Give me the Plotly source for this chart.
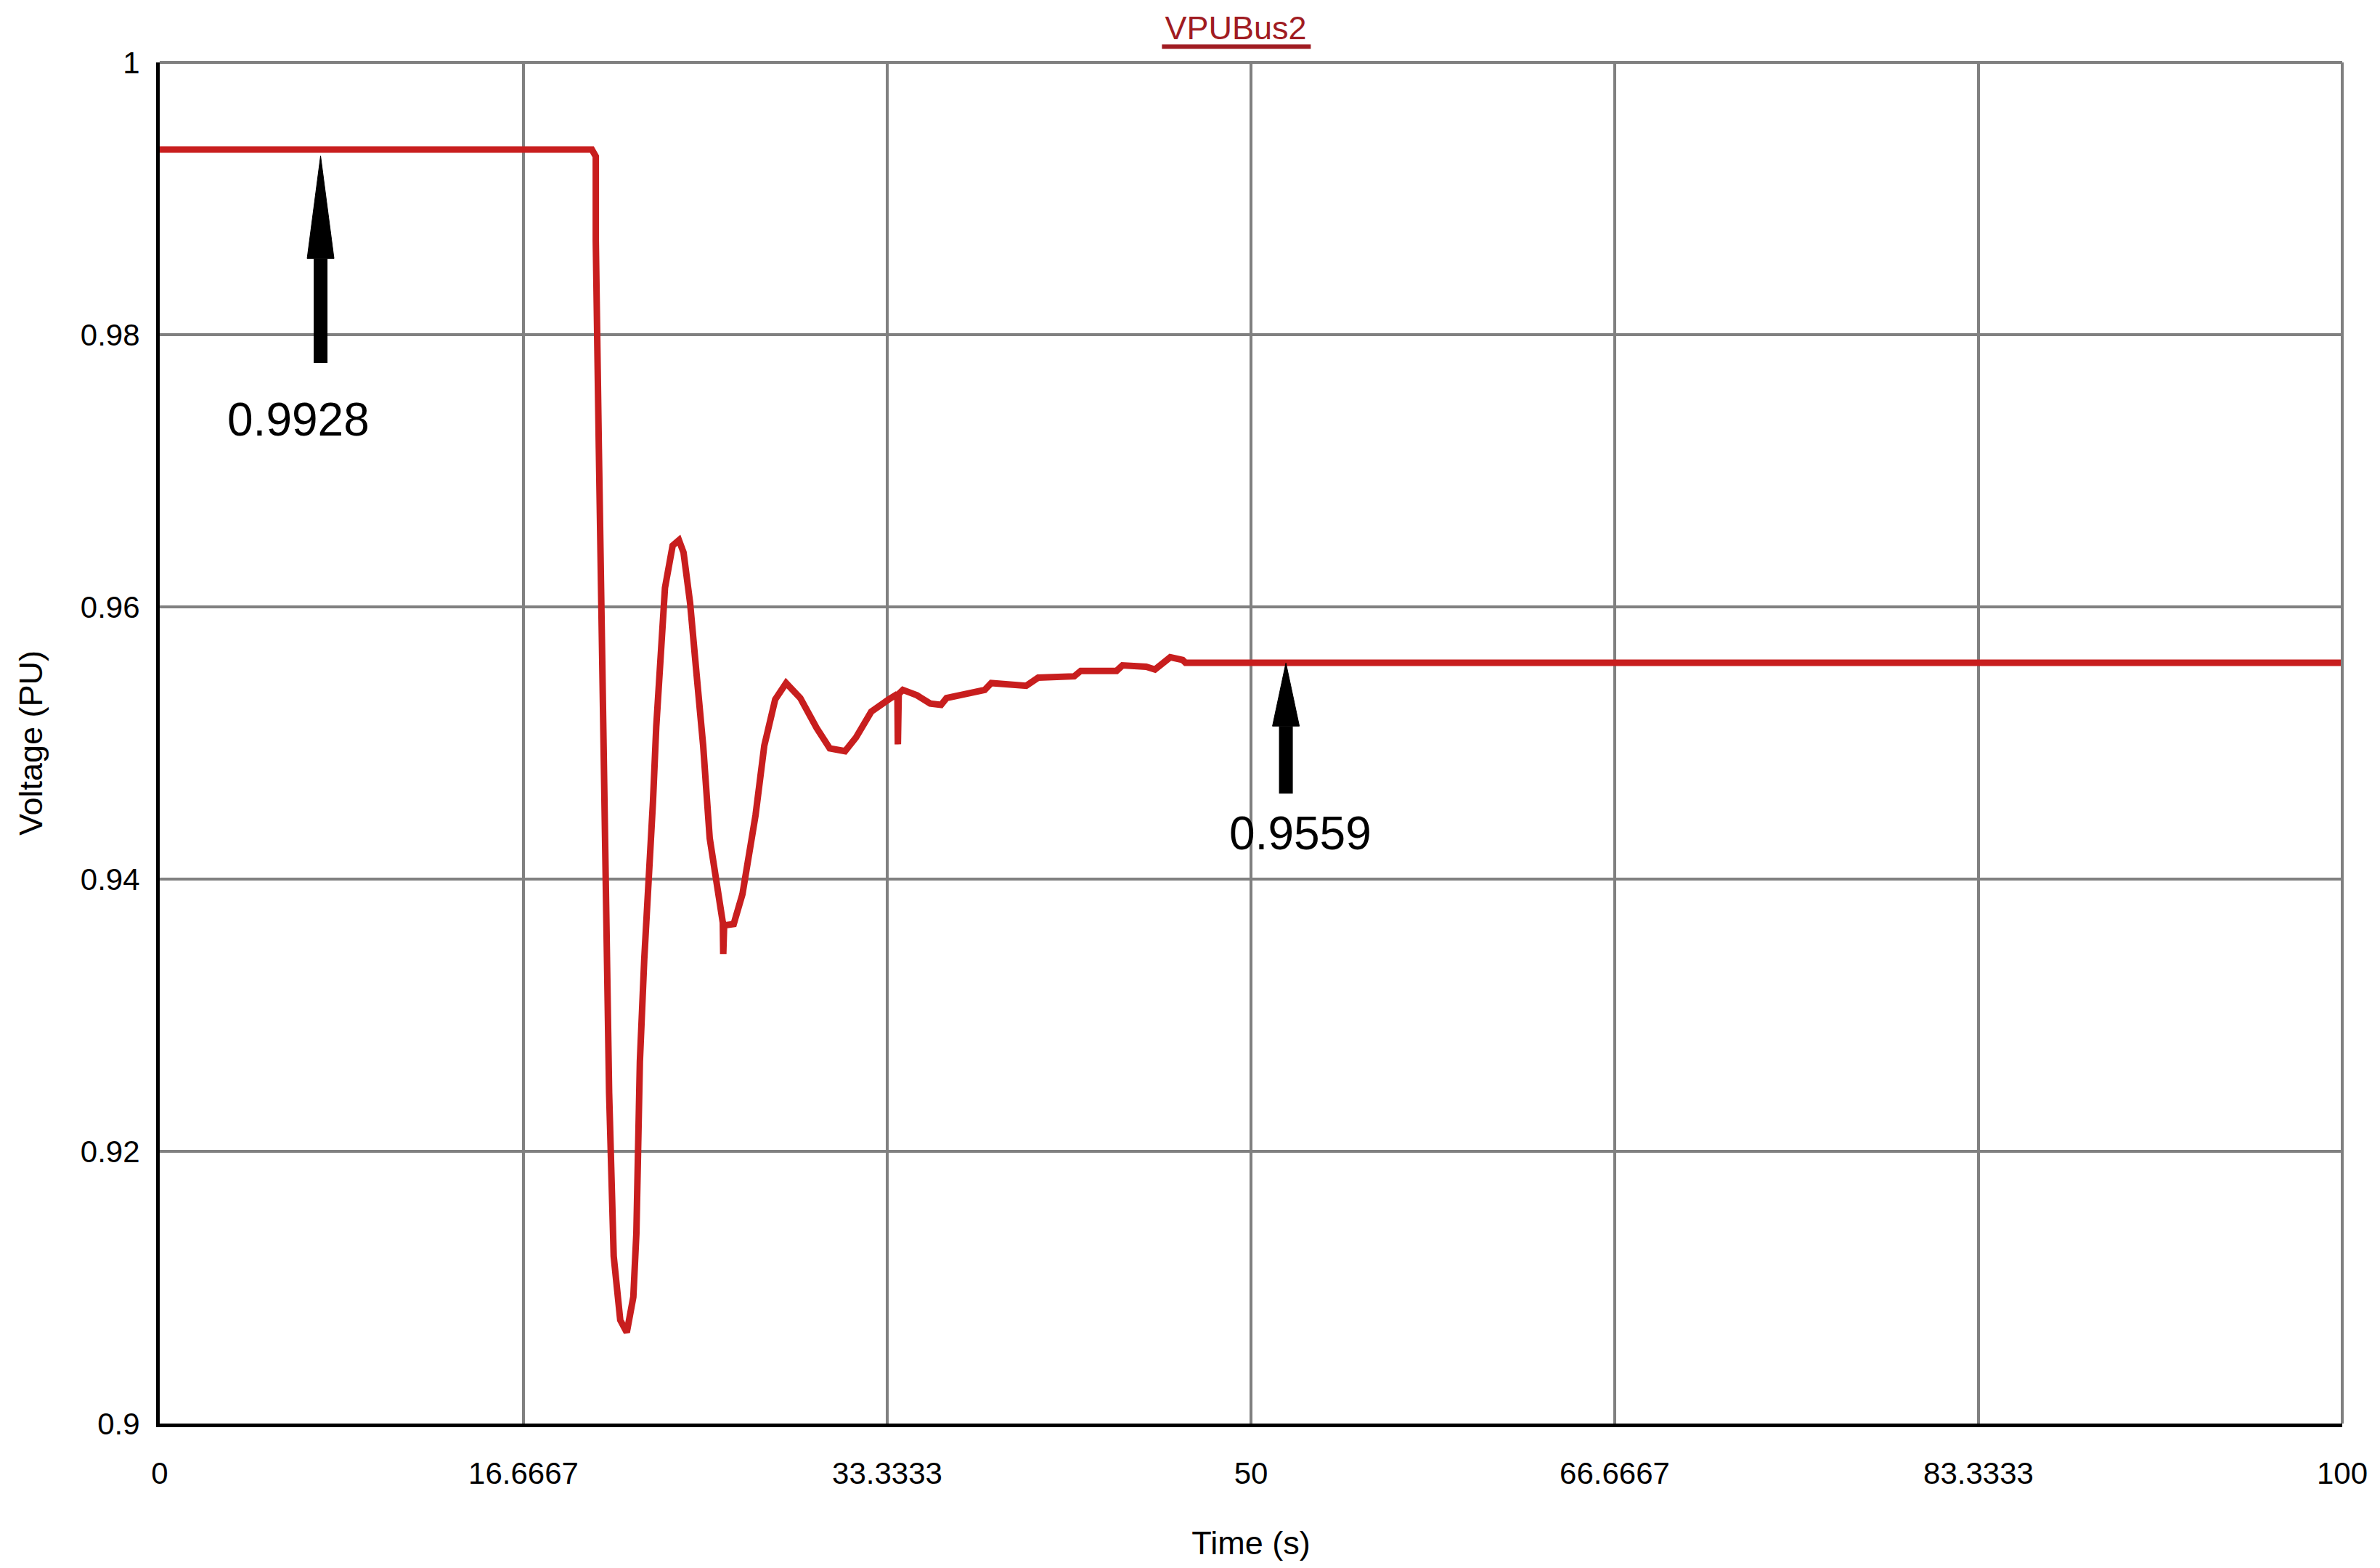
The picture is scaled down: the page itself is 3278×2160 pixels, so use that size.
import plotly.graph_objects as go

# time (s) and bus 2 voltage (PU)
time_s = [0, 19.8, 19.98, 19.98, 20.12, 20.26, 20.44, 20.59, 20.8, 21.1, 21.4, 21.7,
          21.84, 22.0, 22.2, 22.43, 22.6, 22.75, 22.95, 23.15, 23.5, 23.79, 24.0, 24.3,
          24.6, 24.9, 25.2, 25.5, 25.8, 25.82, 25.86, 26.3, 26.7, 27.3, 27.7, 28.2,
          28.7, 29.35, 30.1, 30.7, 31.4, 31.9, 32.6, 33.4, 33.8, 33.82, 33.86, 34.05,
          34.7, 35.3, 35.8, 36.05, 37.8, 38.1, 39.7, 40.25, 41.9, 42.2, 43.84, 44.11,
          45.2, 45.6, 46.3, 46.87, 47.0, 100]
voltage_pu = [0.9936, 0.9936, 0.9931, 0.9869, 0.9716, 0.9553, 0.9403, 0.9243, 0.9123,
              0.9076, 0.9067, 0.9093, 0.9140, 0.9266, 0.9341, 0.9403, 0.9457, 0.9512,
              0.9566, 0.9614, 0.9645, 0.9649, 0.9640, 0.9603, 0.9550, 0.9498, 0.9430,
              0.9396, 0.9368, 0.9345, 0.9366, 0.9367, 0.9389, 0.9447, 0.9498, 0.9532,
              0.9544, 0.9533, 0.9511, 0.9496, 0.9494, 0.9504, 0.9523, 0.9532, 0.9536,
              0.9499, 0.9536, 0.9539, 0.9535, 0.9529, 0.9528, 0.9533, 0.9539, 0.9544,
              0.9542, 0.9548, 0.9549, 0.9553, 0.9553, 0.9557, 0.9556, 0.9554, 0.9563,
              0.9561, 0.9559, 0.9559]

x_ticks = [0, 100 / 6, 200 / 6, 50, 400 / 6, 500 / 6, 100]
x_tick_labels = ["0", "16.6667", "33.3333", "50", "66.6667", "83.3333", "100"]
y_ticks = [0.9, 0.92, 0.94, 0.96, 0.98, 1.0]
y_tick_labels = ["0.9", "0.92", "0.94", "0.96", "0.98", "1"]

# marker arrows: x, tip, head base, tail, label text, label x, label y
marks = [
    (7.37, 0.99313, 0.98559, 0.97792, "0.9928", 6.34, 0.97375),
    (51.6, 0.95588, 0.95124, 0.94628, "0.9559", 52.27, 0.94335),
]

W, H = 3278, 2160
OFF = 8  # page body margin pushes the figure down/right
L, R, T, B = 220 - OFF, 52 + OFF, 86 - OFF, 199 + OFF
FONT = "Liberation Sans"
RED = "#C81E1E"
TITLE_RED = "#A01C22"

fig = go.Figure()
fig.add_trace(go.Scatter(x=time_s, y=voltage_pu, mode="lines",
                         line=dict(color=RED, width=9), showlegend=False))

head_half = 18.5 / ((W - L - R) / 100)  # half width of arrow head in x units
for x, tip, base, tail, txt, lx, ly in marks:
    fig.add_shape(type="line", x0=x, x1=x, y0=tail, y1=base,
                  line=dict(color="black", width=19))
    fig.add_shape(type="path",
                  path=f"M {x - head_half},{base} L {x},{tip} L {x + head_half},{base} Z",
                  fillcolor="black", line=dict(color="black", width=1))
    fig.add_annotation(x=lx, y=ly, text=txt, showarrow=False,
                       font=dict(family=FONT, size=64, color="black"))

# grey top and right frame edges
fig.add_shape(type="line", xref="paper", yref="paper", x0=0, x1=1, y0=1, y1=1,
              line=dict(color="#808080", width=4))
fig.add_shape(type="line", xref="paper", yref="paper", x0=1, x1=1, y0=0, y1=1,
              line=dict(color="#808080", width=4))
# title underline
fig.add_shape(type="line", xref="paper", yref="paper", x0=0.4592, x1=0.5274,
              y0=1.0116, y1=1.0116, line=dict(color=TITLE_RED, width=6))

fig.update_layout(
    width=W, height=H,
    margin=dict(l=L, r=R, t=T, b=B),
    paper_bgcolor="white", plot_bgcolor="white",
    font=dict(family=FONT, size=42, color="black"),
    title=dict(text="VPUBus2", x=(1702 - OFF) / W, xanchor="center", xref="container",
               y=1 - (38 - OFF) / H, yanchor="middle",
               font=dict(family=FONT, size=45, color=TITLE_RED)),
)
fig.update_xaxes(range=[0, 100], tickvals=x_ticks, ticktext=x_tick_labels,
                 showgrid=True, gridcolor="#808080", gridwidth=4,
                 showline=True, linecolor="black", linewidth=5,
                 zeroline=False, ticks="", ticklabelstandoff=28, automargin=False,
                 title=dict(text="Time (s)", standoff=59, font=dict(size=45)))
fig.update_yaxes(range=[0.9, 1.0], tickvals=y_ticks, ticktext=y_tick_labels,
                 showgrid=True, gridcolor="#808080", gridwidth=4,
                 showline=True, linecolor="black", linewidth=5,
                 zeroline=False, ticks="", ticklabelstandoff=14, automargin=False,
                 title=dict(text="Voltage (PU)", standoff=40, font=dict(size=45)))

fig.write_html("out.html")
